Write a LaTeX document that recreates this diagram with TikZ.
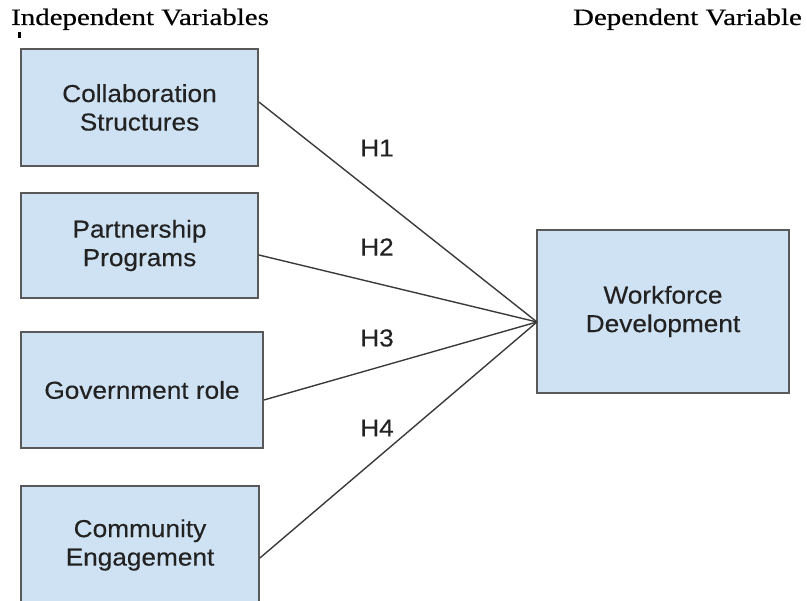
\documentclass[tikz,border=0pt]{standalone}
\usepackage{fontspec}
\newfontfamily\boxfont[FakeStretch=1.07,FakeBold=0.3]{Liberation Sans}
\newfontfamily\headfont[FakeStretch=1.23,FakeBold=0.5]{Liberation Serif}
\definecolor{boxfill}{HTML}{CFE2F3}
\definecolor{boxline}{HTML}{595959}
\definecolor{wire}{HTML}{3A3A3A}
\definecolor{ink}{HTML}{222222}
\begin{document}
\begin{tikzpicture}[x=1pt,y=-1pt,
  varbox/.style={draw=boxline,line width=1.8pt,fill=boxfill,rectangle,
    align=center,inner sep=0pt,text=ink,
    font=\boxfont\fontsize{24.5}{28.5}\selectfont},
  hlabel/.style={text=ink,inner sep=0pt,font=\boxfont\fontsize{24.5}{28.5}\selectfont},
  header/.style={inner sep=0pt,text=black,font=\headfont\fontsize{23.5}{27}\selectfont},
  link/.style={draw=wire,line width=1.4pt}]
\useasboundingbox (0,0) rectangle (807,601);

% column headings
\node[header,anchor=base west] (hin) at (11,25) {Independent Variables};
\node[header,anchor=base east] (hdep) at (802,25) {Dependent Variable};
\fill[black] (17.5,32) rectangle (20.5,38);

% independent variables
\node[varbox,minimum width=237pt,minimum height=117pt] (b1) at (139.5,107.5) {Collaboration\\Structures};
\node[varbox,minimum width=237pt,minimum height=105pt] (b2) at (139.5,245.5) {Partnership\\Programs};
\node[varbox,minimum width=242pt,minimum height=116pt] (b3) at (142,390) {Government role};
\node[varbox,minimum width=238pt,minimum height=118pt] (b4) at (140,545) {Community\\Engagement};

% dependent variable
\node[varbox,minimum width=252pt,minimum height=163pt] (wd) at (663,311.5) {Workforce\\Development};
\coordinate (hub) at (537,322);

% hypothesis links
\draw[link] ([yshift=5.5pt]b1.east) -- (hub);
\draw[link] ([yshift=-9.5pt]b2.east) -- (hub);
\draw[link] ([yshift=-10pt]b3.east) -- (hub);
\draw[link] ([yshift=-13pt]b4.east) -- (hub);

\node[hlabel] (h1) at (377,148) {H1};
\node[hlabel] (h2) at (377,247) {H2};
\node[hlabel] (h3) at (377,338) {H3};
\node[hlabel] (h4) at (377,428) {H4};
\end{tikzpicture}
\end{document}
